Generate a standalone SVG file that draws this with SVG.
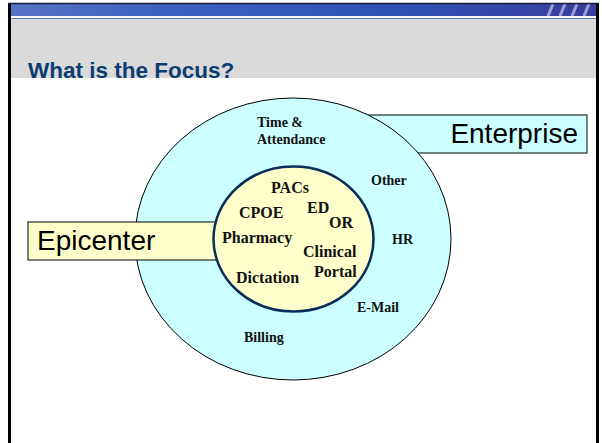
<svg xmlns="http://www.w3.org/2000/svg" width="602" height="443" viewBox="0 0 602 443">
<defs>
<linearGradient id="banner" x1="0" y1="0" x2="1" y2="0">
<stop offset="0" stop-color="#5872c4"/>
<stop offset="0.25" stop-color="#3d64c0"/>
<stop offset="0.6" stop-color="#2d56b8"/>
<stop offset="0.85" stop-color="#3548a8"/>
<stop offset="1" stop-color="#3a3c9c"/>
</linearGradient>
<style>
.lbl{font-family:"Liberation Serif","Times New Roman",serif;font-weight:bold;fill:#111;}
.in{font-size:16px;}
.out{font-size:14px;}
.box{font-family:"Liberation Sans",Arial,sans-serif;font-size:28px;fill:#000;}
</style>
</defs>
<rect x="0" y="0" width="602" height="443" fill="#ffffff"/>
<!-- header -->
<rect x="9" y="4" width="589" height="12" fill="url(#banner)"/>
<g stroke="#c8c8f0" stroke-width="3" opacity="0.7">
<line x1="548" y1="16" x2="553" y2="4"/>
<line x1="560" y1="16" x2="565" y2="4"/>
<line x1="572" y1="16" x2="577" y2="4"/>
<line x1="584" y1="16" x2="589" y2="4"/>
</g>
<rect x="9" y="16" width="589" height="2" fill="#ffffff"/>
<rect x="9" y="18" width="589" height="1.2" fill="#5a7fae"/>
<rect x="9" y="19.2" width="589" height="59" fill="#dadada"/>
<text x="28" y="78" font-family="Liberation Sans, Arial, sans-serif" font-size="22.5" font-weight="bold" fill="#0b3d70">What is the Focus?</text>
<rect x="11" y="78" width="585" height="365" fill="#ffffff"/>
<!-- frame -->
<line x1="9.5" y1="3" x2="9.5" y2="443" stroke="#000" stroke-width="3"/>
<line x1="597.5" y1="3" x2="597.5" y2="443" stroke="#000" stroke-width="3"/>
<line x1="8" y1="3.5" x2="599" y2="3.5" stroke="#1a1a3a" stroke-width="1.5"/>

<g id="enterprise">
<rect x="360" y="115" width="227" height="38" fill="#ccffff" stroke="#000" stroke-width="1"/>
<text class="box" x="578" y="143" text-anchor="end">Enterprise</text>
</g>
<g id="outer-circle">
<ellipse cx="293" cy="239" rx="158" ry="141" fill="#ccffff" stroke="#000" stroke-width="1"/>
<text class="lbl out" x="257" y="127">Time &amp;</text>
<text class="lbl out" x="257" y="144">Attendance</text>
<text class="lbl out" x="371" y="185">Other</text>
<text class="lbl out" x="392" y="244">HR</text>
<text class="lbl out" x="357" y="312">E-Mail</text>
<text class="lbl out" x="244" y="342">Billing</text>
</g>
<g id="epicenter">
<rect x="28" y="222" width="210" height="38" fill="#ffffcc" stroke="#000" stroke-width="1"/>
<text class="box" x="37" y="250">Epicenter</text>
</g>
<g id="inner-circle">
<ellipse cx="293.5" cy="239" rx="80" ry="72.5" fill="#ffffcc" stroke="#0a2d5a" stroke-width="2.5"/>
<text class="lbl in" x="271" y="193">PACs</text>
<text class="lbl in" x="239" y="218">CPOE</text>
<text class="lbl in" x="307" y="213">ED</text>
<text class="lbl in" x="329" y="228">OR</text>
<text class="lbl in" x="222" y="243">Pharmacy</text>
<text class="lbl in" x="303" y="257">Clinical</text>
<text class="lbl in" x="314" y="277">Portal</text>
<text class="lbl in" x="236" y="283">Dictation</text>
</g>
</svg>
